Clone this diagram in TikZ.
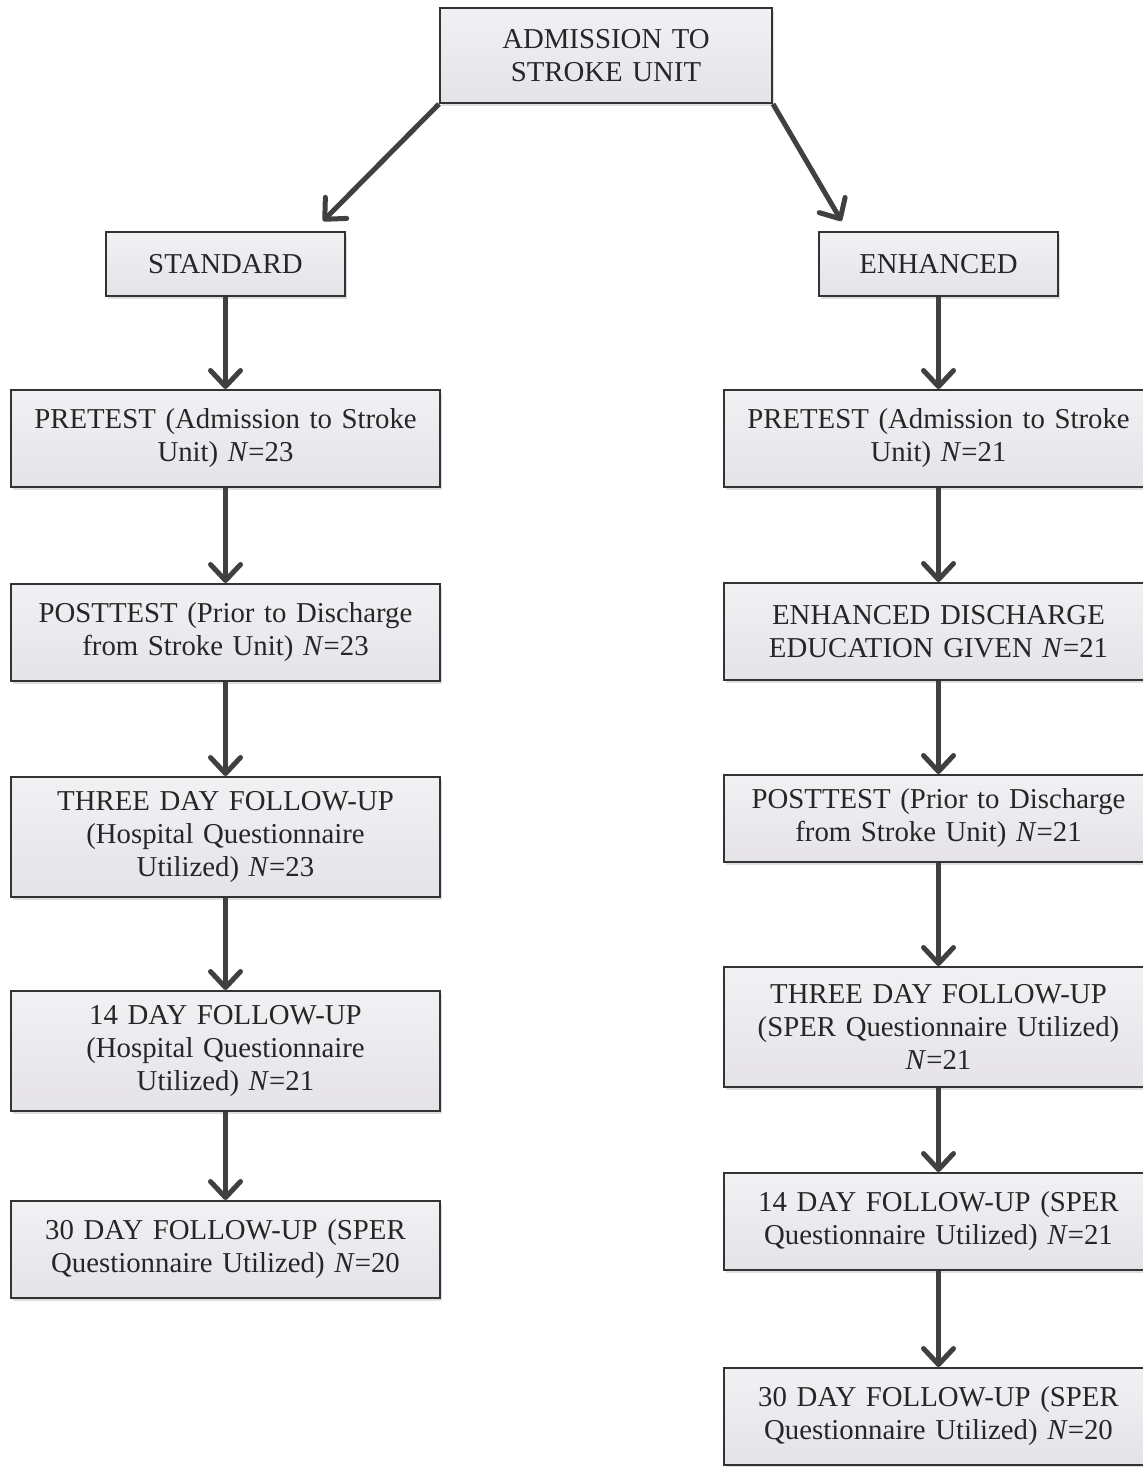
\documentclass[tikz,border=0pt]{standalone}
\usepackage{fontspec}
\setmainfont{Liberation Serif}
\usepackage{xcolor}
\usepackage{tikz}
\usetikzlibrary{positioning}
\usetikzlibrary{arrows.meta,shadows}
\definecolor{boxline}{HTML}{333333}
\definecolor{arrowgray}{HTML}{404040}
\definecolor{boxtop}{HTML}{F1F0F3}
\definecolor{boxbottom}{HTML}{E5E3E8}
\tikzset{edge/.style = {-{Straight Barb[length=8pt,width=15pt,line cap=round,line join=round]},
  line width=2.5pt, color=arrowgray}}

\begin{document}
\begin{tikzpicture}[x=0.5pt,y=-0.5pt,node distance=46pt,
  main node/.style={rectangle,draw=boxline,line width=1pt,top color=boxtop,bottom color=boxbottom,
    drop shadow={opacity=0.25,shadow xshift=1pt,shadow yshift=-1.5pt},
    text=black!85,align=center,text width=200pt,inner xsep=7.25pt,inner ysep=0pt,
    minimum height=48.5pt,font=\fontsize{14.4pt}{16.5pt}\selectfont},
  small node/.style={main node,text width=105pt,minimum height=32pt},
  tall node/.style={main node,minimum height=60pt}]
  \useasboundingbox[fill=white] (0,0) rectangle (1142,1467);

  \node[main node,text width=151.5pt,minimum height=47.5pt] (1) at (606,55.5) {ADMISSION TO\\STROKE UNIT};
  \node[small node] (2) at (225.5,264) {STANDARD};
  \node[small node] (3) at (938.5,264) {ENHANCED};

  % standard column
  \node[main node] (4) [below=of 2] {PRETEST (Admission to Stroke\\Unit) \textit{N}=23};
  \node[main node] (5) [below=47.5pt of 4] {POSTTEST (Prior to Discharge\\from Stroke Unit) \textit{N}=23};
  \node[tall node] (6) [below=47pt of 5] {THREE DAY FOLLOW-UP\\(Hospital Questionnaire\\Utilized) \textit{N}=23};
  \node[tall node] (7) [below=of 6] {14 DAY FOLLOW-UP\\(Hospital Questionnaire\\Utilized) \textit{N}=21};
  \node[main node] (8) [below=44pt of 7] {30 DAY FOLLOW-UP (SPER\\Questionnaire Utilized) \textit{N}=20};

  % enhanced column
  \node[main node] (9) [below=of 3] {PRETEST (Admission to Stroke\\Unit) \textit{N}=21};
  \node[main node] (10) [below=47pt of 9] {ENHANCED DISCHARGE\\EDUCATION GIVEN \textit{N}=21};
  \node[main node,minimum height=43.5pt] (11) [below=46.5pt of 10] {POSTTEST (Prior to Discharge\\from Stroke Unit) \textit{N}=21};
  \node[tall node] (12) [below=51.5pt of 11] {THREE DAY FOLLOW-UP\\(SPER Questionnaire Utilized)\\\textit{N}=21};
  \node[main node] (13) [below=42pt of 12] {14 DAY FOLLOW-UP (SPER\\Questionnaire Utilized) \textit{N}=21};
  \node[main node] (14) [below=48pt of 13] {30 DAY FOLLOW-UP (SPER\\Questionnaire Utilized) \textit{N}=20};

  \path[edge] (1.south west) edge ([xshift=-11.5pt,yshift=5pt]2.north east);
  \path[edge] (1.south east) edge ([xshift=11.75pt,yshift=5pt]3.north west);
  \foreach \a/\b in {2/4,4/5,5/6,6/7,7/8,3/9,9/10,10/11,11/12,12/13,13/14}
    \path[edge] (\a) edge (\b);
\end{tikzpicture}
\end{document}
